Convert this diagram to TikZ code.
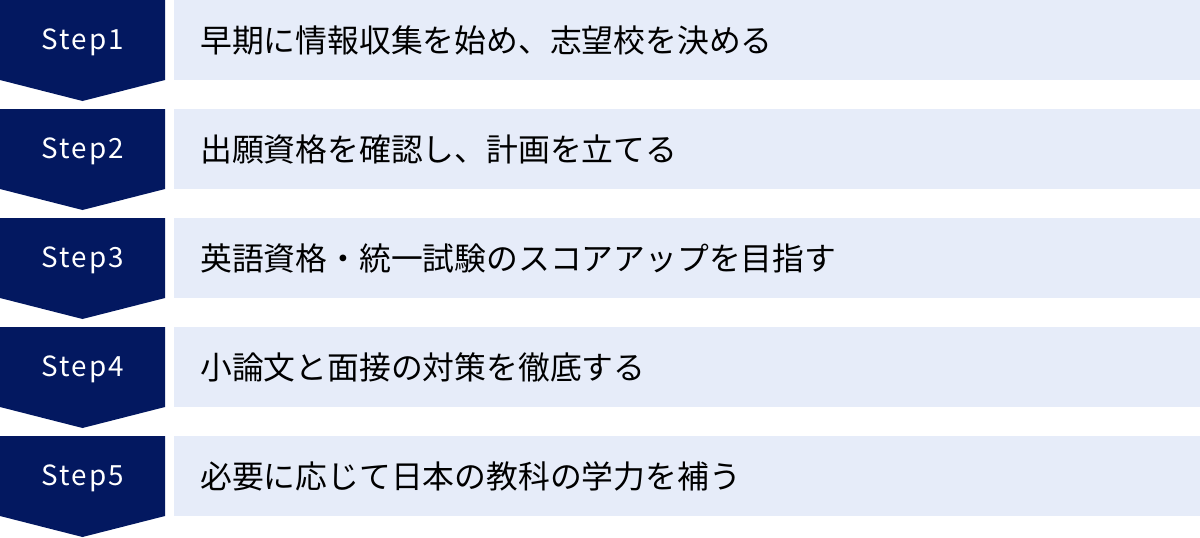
\documentclass[tikz,border=0pt]{standalone}
\usepackage{fontspec}
\setmainfont{Noto Sans CJK JP}
\newfontfamily\stepfont[LetterSpace=8]{Noto Sans CJK JP}
\usetikzlibrary{positioning}
\definecolor{stepnavy}{RGB}{3,24,96}
\definecolor{taskblue}{RGB}{230,236,249}
\tikzset{%
  every task/.style={
    fill=taskblue,
    anchor=north west,
    minimum width=1026pt,
    minimum height=80pt,
    text width=974pt,
    inner xsep=26pt,
    inner ysep=0pt,
    align=left,
    font=\fontsize{31.8}{36}\selectfont
  },
  step label/.style={
    text=white,
    font=\stepfont\fontsize{27.8}{32}\selectfont
  },
}

\begin{document}
\begin{tikzpicture}[x=1pt, y=1pt]

\useasboundingbox (0,0) rectangle (1200,-538);

\foreach \t [count=\i, evaluate=\i as \y using -109*(\i-1)] in {%
  早期に情報収集を始め、志望校を決める,
  出願資格を確認し、計画を立てる,
  英語資格・統一試験のスコアアップを目指す,
  小論文と面接の対策を徹底する,
  必要に応じて日本の教科の学力を補う}
{
  \fill [stepnavy] (0,\y) -- ++(165,0) -- ++(0,-80) -- ++(-82.5,-21) -- ++(-82.5,21) -- cycle;
  \node [step label] (step-\i) at (82.5,\y-42.5) {Step\i};
  \node [every task/.try] (task-\i) at (174,\y) {\t};
}

\end{tikzpicture}
\end{document}
